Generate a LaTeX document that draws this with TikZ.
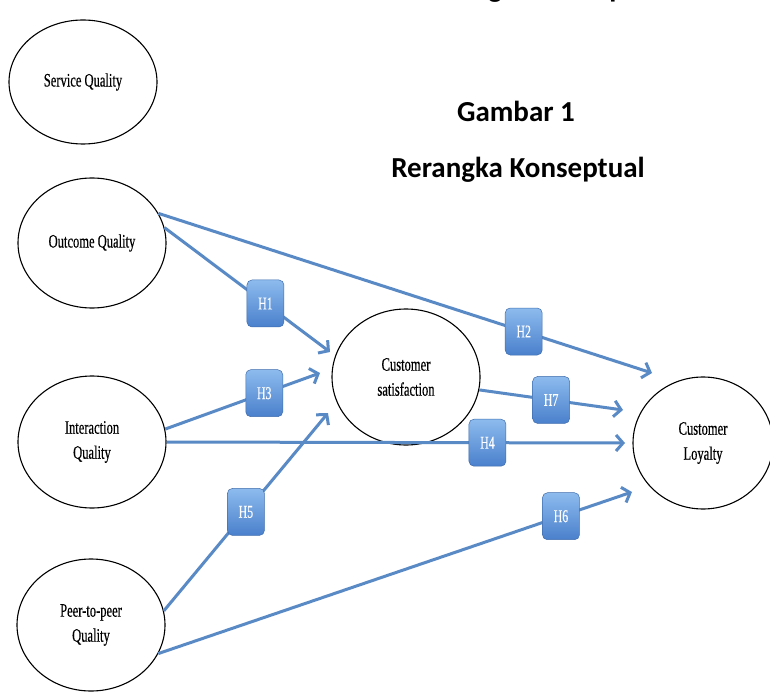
\documentclass[tikz,border=0pt]{standalone}
\usepackage{fontspec}
\setmainfont{Liberation Serif}
\newfontfamily\condserif[FakeStretch=0.66,FakeBold=0.4]{Liberation Serif}
\newfontfamily\titlefont{Carlito}
\usetikzlibrary{shapes.geometric,arrows.meta}
\definecolor{linkblue}{HTML}{5A8AC6}
\definecolor{boxtop}{HTML}{8DBBEE}
\definecolor{boxbot}{HTML}{4A80CC}
\begin{document}
\begin{tikzpicture}[x=1pt,y=-1pt,
  lat/.style={ellipse,draw=black,line width=1.1pt,fill=white,inner sep=0pt,
    font=\condserif\fontsize{19}{25}\selectfont,align=center},
  hbox/.style={rounded corners=5pt,minimum width=37pt,minimum height=47pt,
    top color=boxtop,bottom color=boxbot,draw=boxbot!85!black,line width=0.5pt,
    font=\condserif\fontsize{18}{20}\selectfont,text=white,inner sep=0pt},
  link/.style={draw=linkblue,line width=3pt,-{Straight Barb[length=7pt,width=16pt]}},
  title/.style={font=\titlefont\bfseries\fontsize{29}{34}\selectfont}]
\useasboundingbox (0,0) rectangle (770,692);
\clip (0,0) rectangle (770,692);
\fill[white] (0,0) rectangle (770,692);

% titles
\node[title] (ttop) at (545,-10) {Rerangka Konseptual};
\node[title] (tg) at (516,111) {Gambar 1};
\node[title] (tr) at (518,170) {Rerangka Konseptual};

% latent variables
\node[lat,minimum width=148pt,minimum height=124pt] (sq) at (83,82) {Service Quality};
\node[lat,minimum width=148pt,minimum height=130pt] (oq) at (92,243) {Outcome Quality};
\node[lat,minimum width=148pt,minimum height=132pt] (iq) at (92,442) {Interaction\\Quality};
\node[lat,minimum width=148pt,minimum height=132pt] (pq) at (91,625) {Peer-to-peer\\Quality};
\node[lat,minimum width=148pt,minimum height=136pt] (cs) at (406,377) {Customer\\satisfaction};
\node[lat,minimum width=140pt,minimum height=132pt] (cl) at (703,443) {Customer\\Loyalty};

% arrow tips
\coordinate (t1) at (330,352);
\coordinate (t2) at (652,373);
\coordinate (t3) at (320,373);
\coordinate (t4) at (625,443);
\coordinate (t7) at (623,410);
\coordinate (t5) at (328,413);
\coordinate (t6) at (632,492);

% connectors
\draw[link] (oq.24) -- node[hbox,pos=0.74] (h2) {H2} (t2);
\draw[link] (oq.12) -- node[hbox,pos=0.61] (h1) {H1} (t1);
\draw[link] (iq.10) -- node[hbox,pos=0.64] (h3) {H3} (t3);
\draw[link] (iq.east) -- node[hbox,pos=0.70] (h4) {H4} (t4);
\draw[link] (cs.-10) -- node[hbox,pos=0.50] (h7) {H7} (t7);
\draw[link] (pq.11) -- node[hbox,pos=0.50] (h5) {H5} (t5);
\draw[link] (pq.-23) -- node[hbox,pos=0.85] (h6) {H6} (t6);
\end{tikzpicture}
\end{document}
